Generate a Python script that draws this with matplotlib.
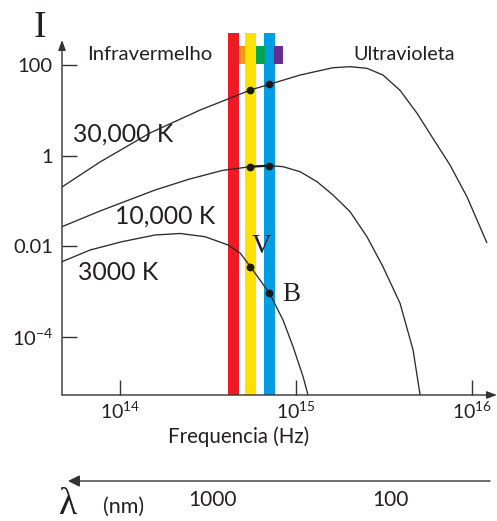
import matplotlib
matplotlib.use("Agg")
import matplotlib.pyplot as plt
from matplotlib.ticker import NullLocator

# ---------------- data (log10 values) ----------------
# 30,000 K curve
t30_lognu = [13.670, 13.886, 14.170, 14.455, 14.642, 14.741, 14.849, 15.023, 15.210,
             15.307, 15.403, 15.494, 15.591, 15.688, 15.778, 15.875, 15.972, 16.085]
t30_logI = [-0.691, -0.140, 0.500, 1.007, 1.294, 1.449, 1.574, 1.779, 1.940,
            1.963, 1.927, 1.779, 1.441, 0.933, 0.382, -0.207, -0.912, -1.927]
# 10,000 K curve
t10_lognu = [13.670, 13.886, 14.199, 14.386, 14.580, 14.741, 14.849, 14.926, 15.023,
             15.119, 15.210, 15.307, 15.403, 15.494, 15.591, 15.665, 15.705]
t10_logI = [-1.567, -1.221, -0.758, -0.526, -0.327, -0.243, -0.221, -0.243, -0.354,
            -0.574, -0.868, -1.236, -1.788, -2.450, -3.257, -4.287, -5.280]
# 3000 K curve
t3_lognu = [13.670, 13.830, 14.011, 14.199, 14.341, 14.483, 14.614, 14.682, 14.741,
            14.849, 14.926, 14.983, 15.040, 15.068]
t3_logI = [-2.339, -2.081, -1.898, -1.750, -1.717, -1.788, -1.971, -2.147, -2.450,
           -3.036, -3.625, -4.214, -4.876, -5.280]

# V and B band points (log10 frequency, log10 intensity)
dot_lognu = [14.741, 14.849]
dot30_logI = [1.449, 1.574]
dot10_logI = [-0.243, -0.221]
dot3_logI = [-2.450, -3.036]

# colour bands (log10 centre frequency)
band_lognu = [14.645, 14.741, 14.849]
band_colors = ["#ED1C24", "#FFE100", "#009EE0"]
square_lognu = [14.693, 14.7955, 14.9015]
square_widths = [0.034, 0.051, 0.053]
square_colors = ["#F7941D", "#00A651", "#662D91"]

yticks = [1e2, 1, 1e-2, 1e-4]
ytick_labels = ["100", "1", "0.01", r"$10^{-4}$"]
xticks = [1e14, 1e15, 1e16]
xtick_labels = [r"$10^{14}$", r"$10^{15}$", r"$10^{16}$"]

# ---------------- styling ----------------
SANS = ["Lato", "DejaVu Sans"]
SERIF = ["Liberation Serif", "DejaVu Serif"]
plt.rcParams["font.family"] = SANS
plt.rcParams["mathtext.fontset"] = "custom"
plt.rcParams["mathtext.rm"] = "Lato"
plt.rcParams["mathtext.it"] = "Lato:italic"
plt.rcParams["mathtext.default"] = "regular"
TXT = "#231F20"
LINE = "#2B2B2B"

W, H, DPI = 497, 521, 100
fig = plt.figure(figsize=(W / DPI, H / DPI), dpi=DPI)

def fx(x):
    return x / W

def fy(y):
    return 1 - y / H

# axes: left spine x=62px, bottom y=395px, right 497px, top 33px
ax = fig.add_axes([fx(62), fy(395), fx(497) - fx(62), fy(33) - fy(395)])
ax.set_xscale("log")
ax.set_yscale("log")
ax.set_xlim(10 ** 13.670, 10 ** 16.142)
ax.set_ylim(10 ** -5.280, 10 ** 2.706)
for s in ax.spines.values():
    s.set_visible(False)
ax.patch.set_alpha(0)

# colour bands
bw = 0.0625
for c, col in zip(band_lognu, band_colors):
    ax.axvspan(10 ** (c - bw / 2), 10 ** (c + bw / 2), ymin=0, ymax=1, color=col, lw=0, zorder=1)
for c, w, col in zip(square_lognu, square_widths, square_colors):
    ax.fill_between([10 ** (c - w / 2), 10 ** (c + w / 2)], 10 ** 2.022, 10 ** 2.419,
                    color=col, lw=0, zorder=2)

# curves
for lx, ly in [(t30_lognu, t30_logI), (t10_lognu, t10_logI), (t3_lognu, t3_logI)]:
    ax.plot([10 ** v for v in lx], [10 ** v for v in ly], color=LINE, lw=0.95,
            zorder=3, solid_capstyle="butt", clip_on=False)
for dy in [dot30_logI, dot10_logI, dot3_logI]:
    ax.plot([10 ** v for v in dot_lognu], [10 ** v for v in dy], ls="none",
            marker="o", ms=4.6, color="#1A1A1A", zorder=4)
ax.plot([10 ** v for v in dot_lognu], [10 ** v for v in dot10_logI], color="#1A1A1A",
        lw=1.6, zorder=4)

# axes lines with arrows
ax.annotate("", xy=(0, 0.9807), xytext=(0, 0), xycoords="axes fraction",
            arrowprops=dict(arrowstyle="-|>,head_length=0.6,head_width=0.22",
                            color="#333333", lw=1.0, shrinkA=0, shrinkB=0), zorder=5)
ax.annotate("", xy=(1.0, 0), xytext=(0, 0), xycoords="axes fraction",
            arrowprops=dict(arrowstyle="-|>,head_length=0.6,head_width=0.22",
                            color="#333333", lw=1.0, shrinkA=0, shrinkB=0), zorder=5)

# ticks
ax.set_xticks(xticks)
ax.set_xticklabels(xtick_labels)
ax.set_yticks(yticks)
ax.set_yticklabels(ytick_labels)
ax.xaxis.set_minor_locator(NullLocator())
ax.yaxis.set_minor_locator(NullLocator())
ax.tick_params(axis="y", direction="in", length=10.5, width=1.0, color="#333333",
               labelsize=14.5, labelcolor=TXT, pad=6.5)
ax.tick_params(axis="x", direction="in", length=11, width=1.0, color="#333333",
               labelsize=14, labelcolor=TXT, pad=4)

# texts
fig.text(fx(40), fy(37), "I", family=SERIF, fontsize=27, color=TXT, ha="center", va="baseline")
fig.text(fx(87), fy(60), "Infravermelho", fontsize=14.6, color=TXT, ha="left", va="baseline")
fig.text(fx(353), fy(60), "Ultravioleta", fontsize=14.2, color=TXT, ha="left", va="baseline")
fig.text(fx(73), fy(142), "30,000 K", fontsize=17.8, color=TXT, ha="left", va="baseline")
fig.text(fx(115), fy(224), "10,000 K", fontsize=17.8, color=TXT, ha="left", va="baseline")
fig.text(fx(78), fy(280), "3000 K", fontsize=17.8, color=TXT, ha="left", va="baseline")
fig.text(fx(252), fy(253), "V", family=SERIF, fontsize=19.5, color=TXT, ha="left", va="baseline")
fig.text(fx(282), fy(301), "B", family=SERIF, fontsize=19.5, color=TXT, ha="left", va="baseline")
fig.text(fx(168), fy(443), "Frequencia (Hz)", fontsize=14.8, color=TXT, ha="left", va="baseline")

# wavelength arrow and labels
fig.add_artist(matplotlib.patches.FancyArrowPatch(
    (fx(490), fy(481)), (fx(68), fy(481)), transform=fig.transFigure,
    arrowstyle="-|>,head_length=7,head_width=3.5", color="#333333", lw=1.0,
    shrinkA=0, shrinkB=0))
fig.text(fx(68), fy(514), "λ", family=SERIF, fontsize=27, color=TXT, ha="center", va="baseline")
fig.text(fx(103), fy(513), "(nm)", fontsize=15.5, color=TXT, ha="left", va="baseline")
fig.text(fx(213), fy(506.5), "1000", fontsize=15, color=TXT, ha="center", va="baseline")
fig.text(fx(390), fy(506.5), "100", fontsize=15, color=TXT, ha="center", va="baseline")

fig.savefig("out.png", dpi=DPI)
